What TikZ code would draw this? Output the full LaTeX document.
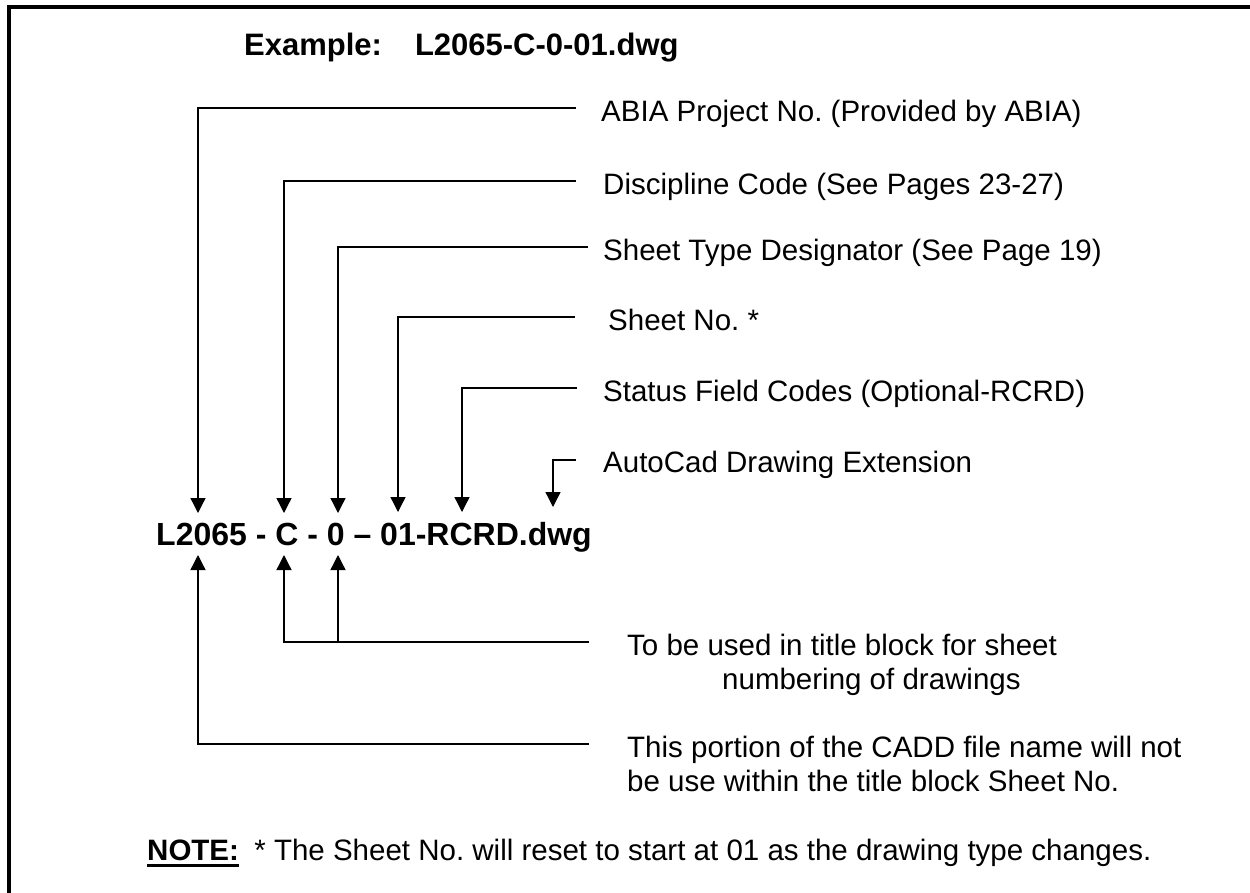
\documentclass[tikz,border=0pt]{standalone}
\usepackage{fontspec}
\setmainfont{Liberation Sans}
\usetikzlibrary{arrows.meta}
\frenchspacing
\begin{document}
\frenchspacing
\begin{tikzpicture}[x=1pt,y=-1pt,
  lbl/.style={inner sep=0pt, anchor=base west, font=\fontsize{29.5}{34}\selectfont},
  notebold/.style={inner sep=0pt, anchor=base west, font=\fontsize{29.5}{34}\selectfont\bfseries},
  big/.style={inner sep=0pt, anchor=base west, font=\fontsize{32}{36}\selectfont\bfseries},
  titlestyle/.style={inner sep=0pt, anchor=base west, font=\fontsize{31}{36}\selectfont\bfseries},
  conn/.style={line width=1.3pt, black},
  arr/.style={conn, -{Triangle[length=15pt,width=15pt]}},
  framestyle/.style={line width=4pt, line join=miter}]
\useasboundingbox (0,0) rectangle (1250,892);

% frame (cropped)
\draw[framestyle] (9,900) -- (9,7) -- (1260,7);

% title
\node[titlestyle] (title) at (244,55) {Example:\hspace{33pt}L2065-C-0-01.dwg};

% main file name
\node[big] (main) at (156,545) {L2065 - C - 0 -- 01-RCRD.dwg};

% labels
\node[lbl] (abia)  at (601,121) {ABIA Project No. (Provided by ABIA)};
\node[lbl] (disc)  at (603,194) {Discipline Code (See Pages 23-27)};
\node[lbl] (stype) at (603,260) {Sheet Type Designator (See Page 19)};
\node[lbl] (sno)   at (608,330) {Sheet No. *};
\node[lbl] (stat)  at (603,401) {Status Field Codes (Optional-RCRD)};
\node[lbl] (acad)  at (603,472) {AutoCad Drawing Extension};

\node[lbl] (tb1) at (627,655) {To be used in title block for sheet};
\node[lbl] (tb2) at (722,689) {numbering of drawings};
\node[lbl] (tp1) at (627,757) {This portion of the CADD file name will not};
\node[lbl] (tp2) at (627,791) {be use within the title block Sheet No.};

\node[notebold] (note) at (147,860) {NOTE:};
\node[lbl] (notetext) at ([xshift=15pt]note.base east) {* The Sheet No. will reset to start at 01 as the drawing type changes.};
\draw[line width=2.6pt] ([yshift=-5.5pt]note.base west) -- ([yshift=-5.5pt]note.base east);

% connector coordinates
\coordinate (e1) at (576,108);
\coordinate (e2) at (576,181);
\coordinate (e3) at (588,247);
\coordinate (e4) at (575,317);
\coordinate (e5) at (577,388);
\coordinate (e6) at (576,460);
\coordinate (k1) at (198,513);
\coordinate (k2) at (284,513);
\coordinate (k3) at (338,513);
\coordinate (k4) at (398,512);
\coordinate (k5) at (462,512);
\coordinate (k6) at (553,507);

\draw[arr] (e1) -| (k1);
\draw[arr] (e2) -| (k2);
\draw[arr] (e3) -| (k3);
\draw[arr] (e4) -| (k4);
\draw[arr] (e5) -| (k5);
\draw[arr] (e6) -| (k6);

\coordinate (f1) at (589,642);
\coordinate (f2) at (589,744);
\coordinate (j1) at (338,642);
\coordinate (u1) at (198,555);
\coordinate (u2) at (284,555);
\coordinate (u3) at (338,555);

\draw[arr] (f1) -| (u2);
\draw[arr] (j1) -- (u3);
\draw[arr] (f2) -| (u1);
\end{tikzpicture}
\end{document}
